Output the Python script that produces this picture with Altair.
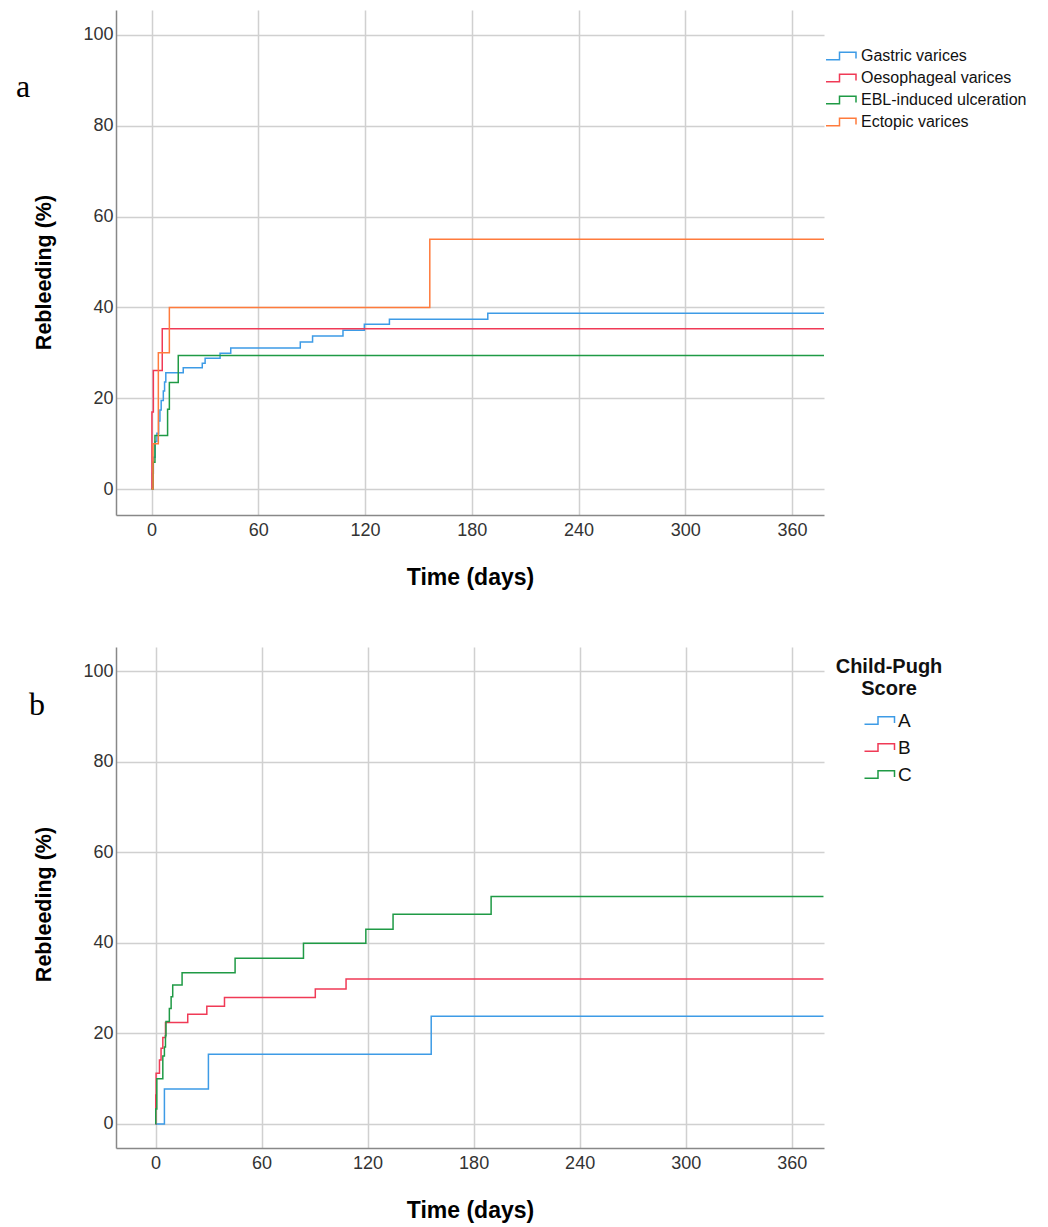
import altair as alt
import pandas as pd

# ---------------- Panel a data ----------------
a_series = ["Gastric varices", "Oesophageal varices", "EBL-induced ulceration", "Ectopic varices"]
a_colors = ["#3d9be6", "#f03a56", "#1f9a45", "#ff7b3c"]

gastric_days = [0, 0.5, 1, 2, 3, 4, 4.7, 5.4, 6.6, 7.3, 8, 17.8, 28.5, 30.1, 38.5, 44.5, 83.6, 90.5, 107.6, 119.6, 133.7, 189, 378]
gastric_vals = [0, 3.5, 7.0, 10.5, 12.3, 15.0, 17.4, 19.5, 21.6, 23.6, 25.6, 26.7, 27.7, 28.8, 29.9, 31.1, 32.4, 33.7, 35.0, 36.3, 37.4, 38.7, 38.7]

oeso_days = [0, 0.2, 1, 6, 378]
oeso_vals = [0, 17.0, 26.1, 35.3, 35.3]

ebl_days = [0, 0.9, 1.9, 9, 10, 15, 378]
ebl_vals = [0, 5.9, 11.8, 17.6, 23.5, 29.4, 29.4]

ectopic_days = [0, 0.8, 3.8, 10, 156.4, 378]
ectopic_vals = [0, 10.0, 30.0, 40.0, 55.0, 55.0]

# ---------------- Panel b data ----------------
b_series = ["A", "B", "C"]
b_colors = ["#3d9be6", "#f03a56", "#1f9a45"]

cpA_days = [0, 5, 29.9, 156, 378]
cpA_vals = [0, 7.7, 15.4, 23.8, 23.8]

cpB_days = [0, 0.1, 0.3, 2.2, 3.1, 4.1, 5.6, 18.2, 29, 39, 90.4, 107.8, 378]
cpB_vals = [0, 6.4, 11.2, 14.1, 16.7, 19.1, 22.4, 24.2, 26.0, 27.9, 29.8, 32.0, 32.0]

cpC_days = [0, 0.1, 0.7, 4.1, 5.0, 5.6, 5.9, 7.8, 8.8, 9.7, 15, 45, 83.7, 119, 134.4, 189.9, 378]
cpC_vals = [0, 3.3, 10.0, 15.0, 17.0, 19.5, 22.6, 25.5, 28.1, 30.7, 33.4, 36.6, 39.9, 43.0, 46.3, 50.2, 50.2]

x_ticks = [0, 60, 120, 180, 240, 300, 360]
y_ticks = [0, 20, 40, 60, 80, 100]


def build(names, days_lists, vals_lists):
    rows = []
    for name, ds, vs in zip(names, days_lists, vals_lists):
        for i, (d, v) in enumerate(zip(ds, vs)):
            rows.append({"series": name, "day": d, "pct": v, "ord": i})
    return pd.DataFrame(rows)


df_a = build(a_series, [gastric_days, oeso_days, ebl_days, ectopic_days],
             [gastric_vals, oeso_vals, ebl_vals, ectopic_vals])
df_b = build(b_series, [cpA_days, cpB_days, cpC_days], [cpA_vals, cpB_vals, cpC_vals])

STEP = "M-1,0.75H1.7V-0.75H5V0.5"
FONT = "Liberation Sans"


def panel(df, names, colors, xdom, ydom, w, h, legend_kwargs, letter, letter_xy, ytitle_y, extra=None):
    lines = alt.Chart(df).mark_line(interpolate="step-after", strokeWidth=1.5, clip=True).encode(
        x=alt.X("day:Q", scale=alt.Scale(domain=xdom, nice=False, zero=False),
                axis=alt.Axis(values=x_ticks, title="Time (days)", labelPadding=6,
                              titlePadding=27, titleFontSize=23)),
        y=alt.Y("pct:Q", scale=alt.Scale(domain=ydom, nice=False, zero=False),
                axis=alt.Axis(values=y_ticks, title="Rebleeding (%)", labelPadding=3,
                              titlePadding=27, titleFontSize=21.5, titleY=ytitle_y)),
        color=alt.Color("series:N", scale=alt.Scale(domain=names, range=colors),
                        legend=alt.Legend(**legend_kwargs)),
        order="ord:Q",
    )
    let = alt.Chart(pd.DataFrame({"t": [letter]})).mark_text(
        font="Liberation Serif", fontSize=32, align="center", baseline="alphabetic", color="#000"
    ).encode(x=alt.value(letter_xy[0]), y=alt.value(letter_xy[1]), text="t:N")
    layers = [lines, let]
    if extra is not None:
        layers.append(extra)
    return alt.layer(*layers).properties(width=w, height=h)


legend_common = dict(
    orient="none", symbolType=STEP, symbolSize=100, symbolStrokeWidth=1.5,
    symbolFillColor="transparent", labelFont=FONT, labelColor="#111", padding=0,
    labelLimit=0, title=None,
)

legend_a = dict(legend_common, legendX=707, legendY=38, labelFontSize=16, rowPadding=6, labelOffset=22)
legend_b = dict(legend_common, legendX=744, legendY=64, labelFontSize=19, rowPadding=7, labelOffset=19)

title_b = alt.Chart(pd.DataFrame({"t": ["Child-Pugh\nScore"]})).mark_text(
    font=FONT, fontSize=20, fontWeight="bold", align="center", baseline="alphabetic",
    lineBreak="\n", lineHeight=22, color="#111"
).encode(x=alt.value(773), y=alt.value(26), text="t:N")

chart_a = panel(df_a, a_series, a_colors, [-20, 378], [-5.7, 105.5], 708, 505,
                legend_a, "a", (-93, 87), 262)
chart_b = panel(df_b, b_series, b_colors, [-22.4, 378.3], [-5.3, 105.3], 708, 501,
                legend_b, "b", (-79, 68), 257, extra=title_b)

chart = alt.vconcat(chart_a, chart_b, spacing=132, bounds="flush").resolve_scale(
    color="independent", x="independent", y="independent"
).resolve_legend(color="independent").properties(
    padding={"left": 7, "top": 2, "right": 5, "bottom": 5}
).configure_view(stroke=None).configure_axis(
    labelFont=FONT, labelFontSize=18, labelColor="#333",
    titleFont=FONT, titleFontSize=21, titleFontWeight="bold", titleColor="#000",
    domainColor="#888", domainWidth=1.5, gridColor="#d0d0d0", gridWidth=1.5,
    ticks=False,
)

chart.save("out.html", embed_options={"renderer": "svg", "actions": False})
